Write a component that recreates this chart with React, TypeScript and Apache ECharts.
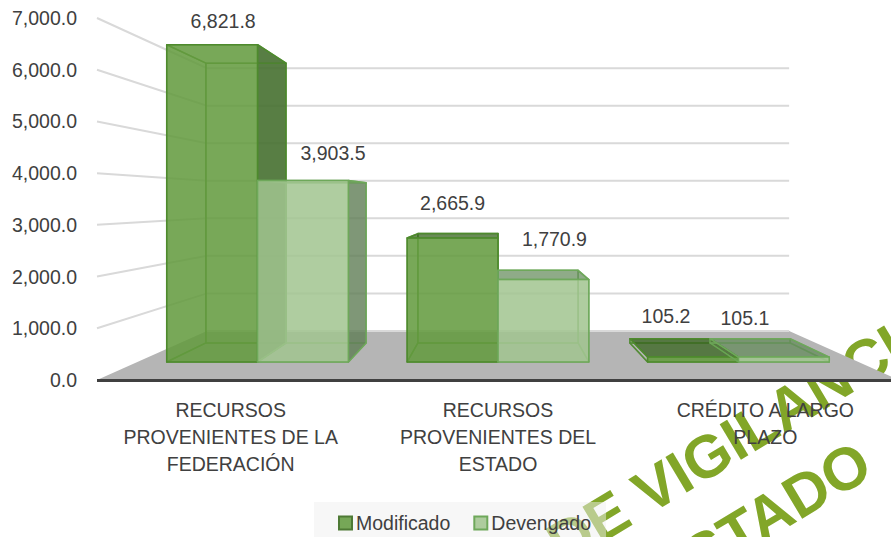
import React, { useEffect, useRef } from "react";
import * as echarts from "echarts";

const categories = [
  "RECURSOS\nPROVENIENTES DE LA\nFEDERACIÓN",
  "RECURSOS\nPROVENIENTES DEL\nESTADO",
  "CRÉDITO A LARGO\nPLAZO",
];
const modificado = [6821.8, 2665.9, 105.2];
const devengado = [3903.5, 1770.9, 105.1];
const gridTicks = [0, 1000, 2000, 3000, 4000, 5000, 6000, 7000];
const modificadoLabelNudge = [[11, -24], [0, -35], [-27, -41]];
const devengadoLabelNudge = [[30, -27], [11, -41], [-39, -39]];

// perspective: the front plane is the ECharts grid; everything deeper converges on this point
const VP = [498, 201];
const S_BACK = 0.726;
const S_BAR_FRONT = 0.8994;
const S_BAR_BACK = 0.793;
const BAR_W = 101;

const project = (p: number[], s: number) => [VP[0] + (p[0] - VP[0]) * s, VP[1] + (p[1] - VP[1]) * s];

const fmt = (v: number) =>
  v.toLocaleString("en-US", { minimumFractionDigits: 1, maximumFractionDigits: 1 });

const TEXT = "#404040";
const FONT = "Liberation Sans";

function barRenderer(
  side: number,
  front: string,
  dark: string,
  top: string,
  stroke: string,
  inner: string,
  nudge: number[][]
) {
  return (params: any, api: any) => {
    const cat = api.value(0);
    const val = api.value(1);
    const c = api.coord([cat, 0]);
    const t = api.coord([cat, val]);
    const x0 = c[0] + (side < 0 ? -BAR_W : 0);
    const x1 = x0 + BAR_W;
    const F = (x: number, y: number) => project([x, y], S_BAR_FRONT);
    const B = (x: number, y: number) => project([x, y], S_BAR_BACK);
    const poly = (pts: number[][], fill: string, st: string, w = 1.5) => ({
      type: "polygon",
      shape: { points: pts },
      style: { fill, stroke: st, lineWidth: w, lineJoin: "round" },
      silent: true,
    });
    const faces: any[] = [
      poly([B(x0, c[1]), B(x1, c[1]), B(x1, t[1]), B(x0, t[1])], "rgba(255,255,255,0)", inner),
      poly([F(x0, c[1]), B(x0, c[1]), B(x0, t[1]), F(x0, t[1])], "rgba(255,255,255,0)", inner),
      poly([F(x0, c[1]), F(x1, c[1]), B(x1, c[1]), B(x0, c[1])], "rgba(255,255,255,0)", inner),
    ];
    if (x1 < VP[0] - 1) {
      faces.push(poly([F(x1, c[1]), B(x1, c[1]), B(x1, t[1]), F(x1, t[1])], dark, stroke));
    } else {
      faces.push(poly([F(x1, c[1]), B(x1, c[1]), B(x1, t[1]), F(x1, t[1])], "rgba(255,255,255,0)", inner));
    }
    const tf = F(x0, t[1]);
    faces.push(
      poly(
        [F(x0, t[1]), F(x1, t[1]), B(x1, t[1]), B(x0, t[1])],
        tf[1] > VP[1] ? top : "rgba(255,255,255,0)",
        tf[1] > VP[1] ? stroke : inner
      )
    );
    faces.push(poly([F(x0, c[1]), F(x1, c[1]), F(x1, t[1]), F(x0, t[1])], front, stroke));
    const n = nudge[params.dataIndex];
    const ft = F((x0 + x1) / 2, t[1]);
    faces.push({
      type: "text",
      silent: true,
      style: {
        x: ft[0] + n[0],
        y: ft[1] + n[1],
        text: fmt(val),
        fill: TEXT,
        font: `19.5px "${FONT}"`,
        align: "center",
        verticalAlign: "middle",
      },
    });
    return { type: "group", children: faces };
  };
}

function wallRenderer(params: any, api: any) {
  const first = api.coord([0, 0]);
  const size = api.size([1, 0])[0];
  const leftX = first[0] - size / 2;
  const rightX = leftX + size * categories.length;
  const p = api.coord([0, api.value(1)]);
  const a = [leftX, p[1]];
  const b = project(a, S_BACK);
  const c = project([rightX, p[1]], S_BACK);
  const line = { stroke: "#D9D9D9", lineWidth: 2, fill: "none" };
  if (api.value(1) === 0) {
    const z = api.coord([0, 0]);
    return {
      type: "group",
      children: [
        {
          type: "polygon",
          silent: true,
          shape: { points: [[leftX, z[1]], b, c, [rightX, z[1]]] },
          style: { fill: "#B5B5B5" },
        },
        { type: "polyline", silent: true, shape: { points: [b, c] }, style: line },
      ],
    };
  }
  return { type: "polyline", silent: true, shape: { points: [a, b, c] }, style: line };
}

export default function App() {
  const ref = useRef<HTMLDivElement>(null);
  useEffect(() => {
    const chart = echarts.init(ref.current!, null, { renderer: "svg" });
    chart.setOption({
      animation: false,
      grid: { left: 97, width: 802, top: 18, height: 362, outerBoundsMode: "none" },
      xAxis: {
        type: "category",
        data: categories,
        z: 6,
        axisTick: { show: false },
        axisLine: { show: false },
        axisLabel: {
          color: TEXT,
          fontFamily: FONT,
          fontSize: 19.5,
          lineHeight: 27,
          interval: 0,
          margin: 16,
        },
      },
      yAxis: {
        type: "value",
        min: 0,
        max: 7000,
        interval: 1000,
        z: 6,
        axisLine: { show: false },
        axisTick: { show: false },
        splitLine: { show: false },
        axisLabel: {
          color: TEXT,
          fontFamily: FONT,
          fontSize: 19.5,
          margin: 20,
          formatter: (v: number) => fmt(v),
        },
      },
      legend: {
        left: 314,
        top: 502,
        padding: [11, 15, 13, 24],
        backgroundColor: "rgba(240,240,240,0.5)",
        itemWidth: 13,
        itemHeight: 13,
        itemGap: 23,
        icon: "rect",
        z: 6,
        textStyle: { color: TEXT, fontFamily: FONT, fontSize: 19.5, padding: [0, 0, 0, -1] },
        data: ["Modificado", "Devengado"],
      },
      graphic: {
        elements: [
          {
            type: "text",
            silent: true,
            z: -10,
            x: 744,
            y: 434,
            rotation: (31 * Math.PI) / 180,
            style: {
              text: "DE VIGILANCIA",
              fill: "#82A628",
              font: `bold 60px "${FONT}"`,
              align: "center",
              verticalAlign: "middle",
            },
          },
          {
            type: "text",
            silent: true,
            z: -10,
            x: 760,
            y: 520,
            rotation: (31 * Math.PI) / 180,
            style: {
              text: "ESTADO",
              fill: "#82A628",
              font: `bold 60px "${FONT}"`,
              align: "center",
              verticalAlign: "middle",
            },
          },
          {
            type: "line",
            silent: true,
            z: 50,
            shape: { x1: 97, y1: 380.5, x2: 891, y2: 380.5 },
            style: { stroke: "#404040", lineWidth: 3 },
          },
        ],
      },
      series: [
        {
          type: "custom",
          silent: true,
          clip: false,
          z: 1,
          renderItem: wallRenderer,
          encode: { y: 1 },
          data: gridTicks.map((v) => [0, v]),
          tooltip: { show: false },
        },
        {
          name: "Modificado",
          type: "custom",
          clip: false,
          z: 2,
          renderItem: barRenderer(
            -1,
            "rgba(99,155,62,0.865)",
            "rgba(70,112,48,0.9)",
            "rgba(55,100,30,0.75)",
            "#4E8A2D",
            "rgba(78,138,45,0.75)",
            modificadoLabelNudge
          ),
          itemStyle: { color: "#76A757", borderColor: "#4E7A35", borderWidth: 1.5 },
          encode: { x: 0, y: 1 },
          data: modificado.map((v, i) => [i, v]),
        },
        {
          name: "Devengado",
          type: "custom",
          clip: false,
          z: 3,
          renderItem: barRenderer(
            1,
            "rgba(161,196,143,0.85)",
            "rgba(95,125,85,0.8)",
            "rgba(95,135,85,0.7)",
            "#6EA85A",
            "rgba(110,168,90,0.7)",
            devengadoLabelNudge
          ),
          itemStyle: { color: "#AECC9E", borderColor: "#6EA85A", borderWidth: 1.5 },
          encode: { x: 0, y: 1 },
          data: devengado.map((v, i) => [i, v]),
        },
      ],
    });
    return () => chart.dispose();
  }, []);
  return <div ref={ref} style={{ width: 891, height: 537, position: "absolute", left: 0, top: 0 }} />;
}
